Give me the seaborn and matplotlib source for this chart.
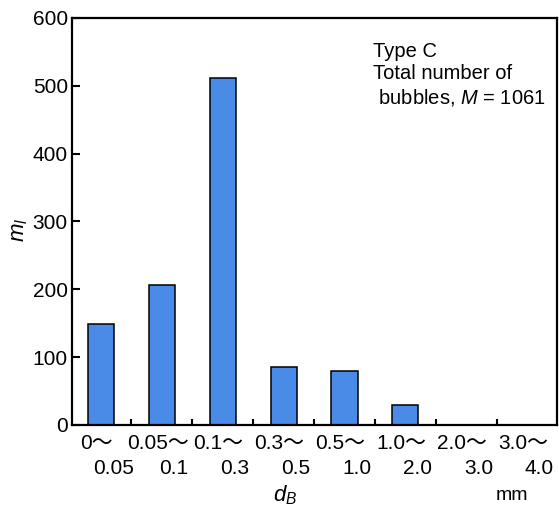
import matplotlib
matplotlib.use("Agg")
import matplotlib.pyplot as plt
import matplotlib.transforms as mtransforms
import seaborn as sns
import pandas as pd

# Bubble diameter classes (mm): lower and upper bounds of each bin
bin_low = ["0", "0.05", "0.1", "0.3", "0.5", "1.0", "2.0", "3.0"]
bin_high = ["0.05", "0.1", "0.3", "0.5", "1.0", "2.0", "3.0", "4.0"]
# Number of bubbles in each class
counts = [149, 206, 512, 85, 80, 29, 0, 0]
y_ticks = [0, 100, 200, 300, 400, 500, 600]

categories = [f"{a}-{b}" for a, b in zip(bin_low, bin_high)]
df = pd.DataFrame({"dB": categories, "m": counts})

sns.set_theme(style="white")
FAM = ["Liberation Sans Narrow", "Liberation Sans", "Noto Sans CJK JP", "DejaVu Sans"]
plt.rcParams["font.family"] = FAM
plt.rcParams["text.color"] = "black"
plt.rcParams["axes.labelcolor"] = "black"
plt.rcParams["xtick.color"] = "black"
plt.rcParams["ytick.color"] = "black"
plt.rcParams["mathtext.fontset"] = "custom"
plt.rcParams["mathtext.it"] = "Liberation Sans:italic"
plt.rcParams["mathtext.rm"] = "Liberation Sans"

fig = plt.figure(figsize=(5.59, 5.11), dpi=100)
ax = fig.add_axes([0.1288, 0.1683, 0.8676, 0.7965])

sns.barplot(data=df, x="dB", y="m", order=categories, color="#4a8be8",
            saturation=1, width=0.43, edgecolor="black", linewidth=1.1, ax=ax)

n = len(categories)
ax.set_xlim(-0.475, n - 1 + 0.49)
ax.set_ylim(y_ticks[0], y_ticks[-1])
ax.set_yticks(y_ticks)
ax.set_yticklabels([str(t) for t in y_ticks], fontsize=15, color="black")
ax.set_xticks([i + 0.5 for i in range(n - 1)])
ax.set_xticklabels([])
ax.tick_params(axis="y", direction="in", length=6, width=1.5, color="black",
               left=True, pad=3)
ax.tick_params(axis="x", direction="in", length=4, width=1.5, color="black",
               bottom=True)
ax.set_xlabel("")
ax.set_ylabel("")

for s in ax.spines.values():
    s.set_visible(True)
    s.set_color("black")
    s.set_linewidth(1.6)

# Two-line bin labels under each bar
trans = mtransforms.blended_transform_factory(ax.transData, ax.transAxes)
for i, (a, b) in enumerate(zip(bin_low, bin_high)):
    ax.text(i - 0.07, -0.022, a + "\uff5e", transform=trans, ha="center", va="top",
            fontsize=15, family=FAM, color="black")
    ax.text(i + 0.2, -0.083, b, transform=trans, ha="center", va="top",
            fontsize=15, family=FAM, color="black")

fig.text(0.035, 0.55, r"$m_l$", rotation=90, ha="center", va="center", fontsize=16,
         color="black")
fig.text(0.51, 0.03, r"$d_B$", ha="center", va="center", fontsize=16, color="black")
fig.text(0.915, 0.03, "mm", ha="center", va="center", fontsize=14, color="black")

ax.text(0.62, 0.94, "Type C\nTotal number of\n bubbles, $M$ = 1061", transform=ax.transAxes,
        ha="left", va="top", fontsize=14.5, linespacing=1.2, color="black")

fig.savefig("out.png", dpi=100)
